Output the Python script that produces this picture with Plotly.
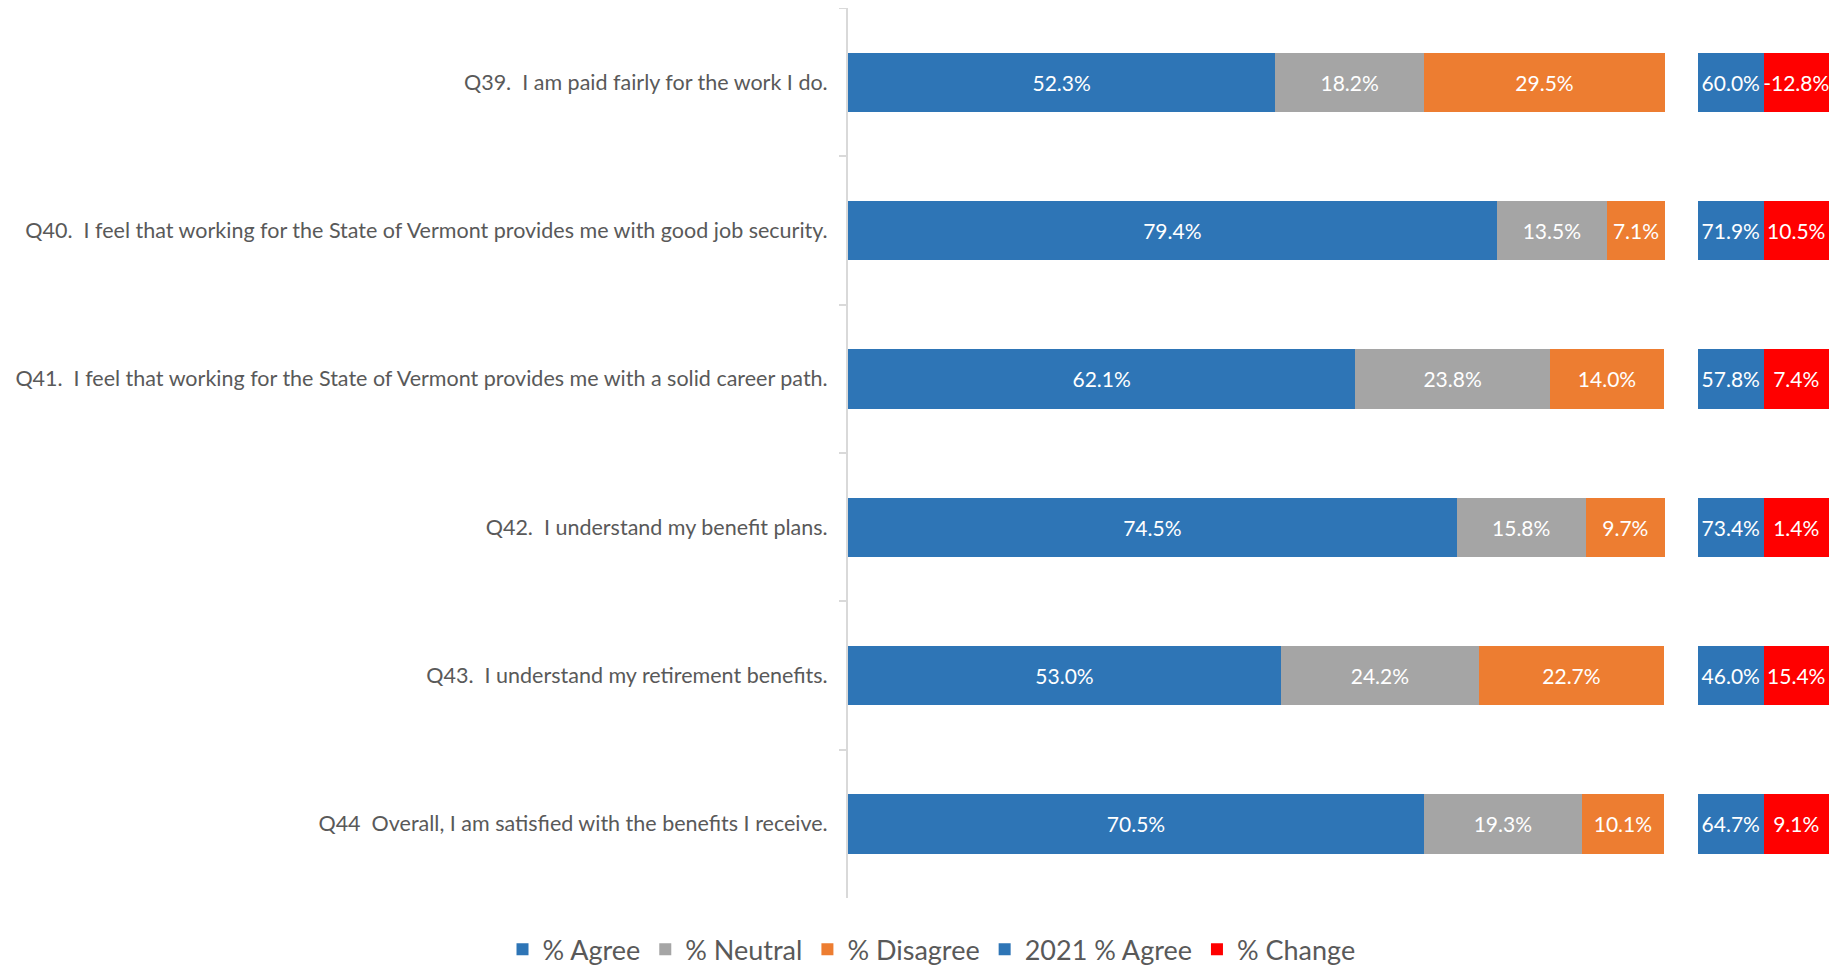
import plotly.graph_objects as go

questions = [
    "Q39.  I am paid fairly for the work I do.",
    "Q40.  I feel that working for the State of Vermont provides me with good job security.",
    "Q41.  I feel that working for the State of Vermont provides me with a solid career path.",
    "Q42.  I understand my benefit plans.",
    "Q43.  I understand my retirement benefits.",
    "Q44  Overall, I am satisfied with the benefits I receive.",
]
agree = [52.3, 79.4, 62.1, 74.5, 53.0, 70.5]
neutral = [18.2, 13.5, 23.8, 15.8, 24.2, 19.3]
disagree = [29.5, 7.1, 14.0, 9.7, 22.7, 10.1]
agree_2021 = [60.0, 71.9, 57.8, 73.4, 46.0, 64.7]
change = [-12.8, 10.5, 7.4, 1.4, 15.4, 9.1]

BLUE = "#2E75B6"
GRAY = "#A5A5A5"
ORANGE = "#ED7D31"
RED = "#FF0000"
TXT = "#595959"
FONT = "Lato"

def pct(v):
    return [f"{x:.1f}%" for x in v]

fig = go.Figure()
common = dict(orientation="h", textposition="inside", insidetextanchor="middle",
              constraintext="none", textfont=dict(color="white", size=21, family=FONT),
              width=0.4, hoverinfo="skip")

for name, vals, col in [("% Agree", agree, BLUE), ("% Neutral", neutral, GRAY), ("% Disagree", disagree, ORANGE)]:
    fig.add_trace(go.Bar(name=name, y=questions, x=vals, text=pct(vals), marker=dict(color=col, line=dict(width=0)),
                         xaxis="x", yaxis="y", **common))

# Table-like cells on the right: equal-width cells showing values
fig.add_trace(go.Bar(name="2021 % Agree", y=questions, x=[1] * len(questions), text=pct(agree_2021),
                     marker=dict(color=BLUE, line=dict(width=0)), xaxis="x2", yaxis="y", **common))
fig.add_trace(go.Bar(name="% Change", y=questions, x=[1] * len(questions), text=pct(change),
                     marker=dict(color=RED, line=dict(width=0)), xaxis="x2", yaxis="y", **common))

fig.update_layout(
    width=1836, height=958,
    margin=dict(l=840, r=15, t=0, b=68),
    barmode="stack",
    plot_bgcolor="white", paper_bgcolor="white",
    font=dict(family=FONT, color=TXT),
    xaxis=dict(domain=[0, 0.8328], range=[0, 100], showgrid=False, zeroline=False,
               showticklabels=False, showline=False, fixedrange=True),
    xaxis2=dict(domain=[0.8665, 1], range=[0, 2], showgrid=False, zeroline=False,
                showticklabels=False, showline=False, anchor="y"),
    yaxis=dict(type="category", autorange="reversed", showgrid=False, zeroline=False,
               showline=True, linecolor="#D9D9D9", linewidth=2,
               ticks="outside", tickson="boundaries", ticklen=7, tickcolor="#D9D9D9", tickwidth=2,
               tickfont=dict(size=21.5, color=TXT, family=FONT), ticklabelstandoff=14),
    legend=dict(orientation="h", xref="container", yref="container", x=0.503, y=0.017,
                xanchor="center", yanchor="middle", font=dict(size=27, color=TXT, family=FONT),
                traceorder="normal"),
    showlegend=True,
)

fig.write_html("out.html")
